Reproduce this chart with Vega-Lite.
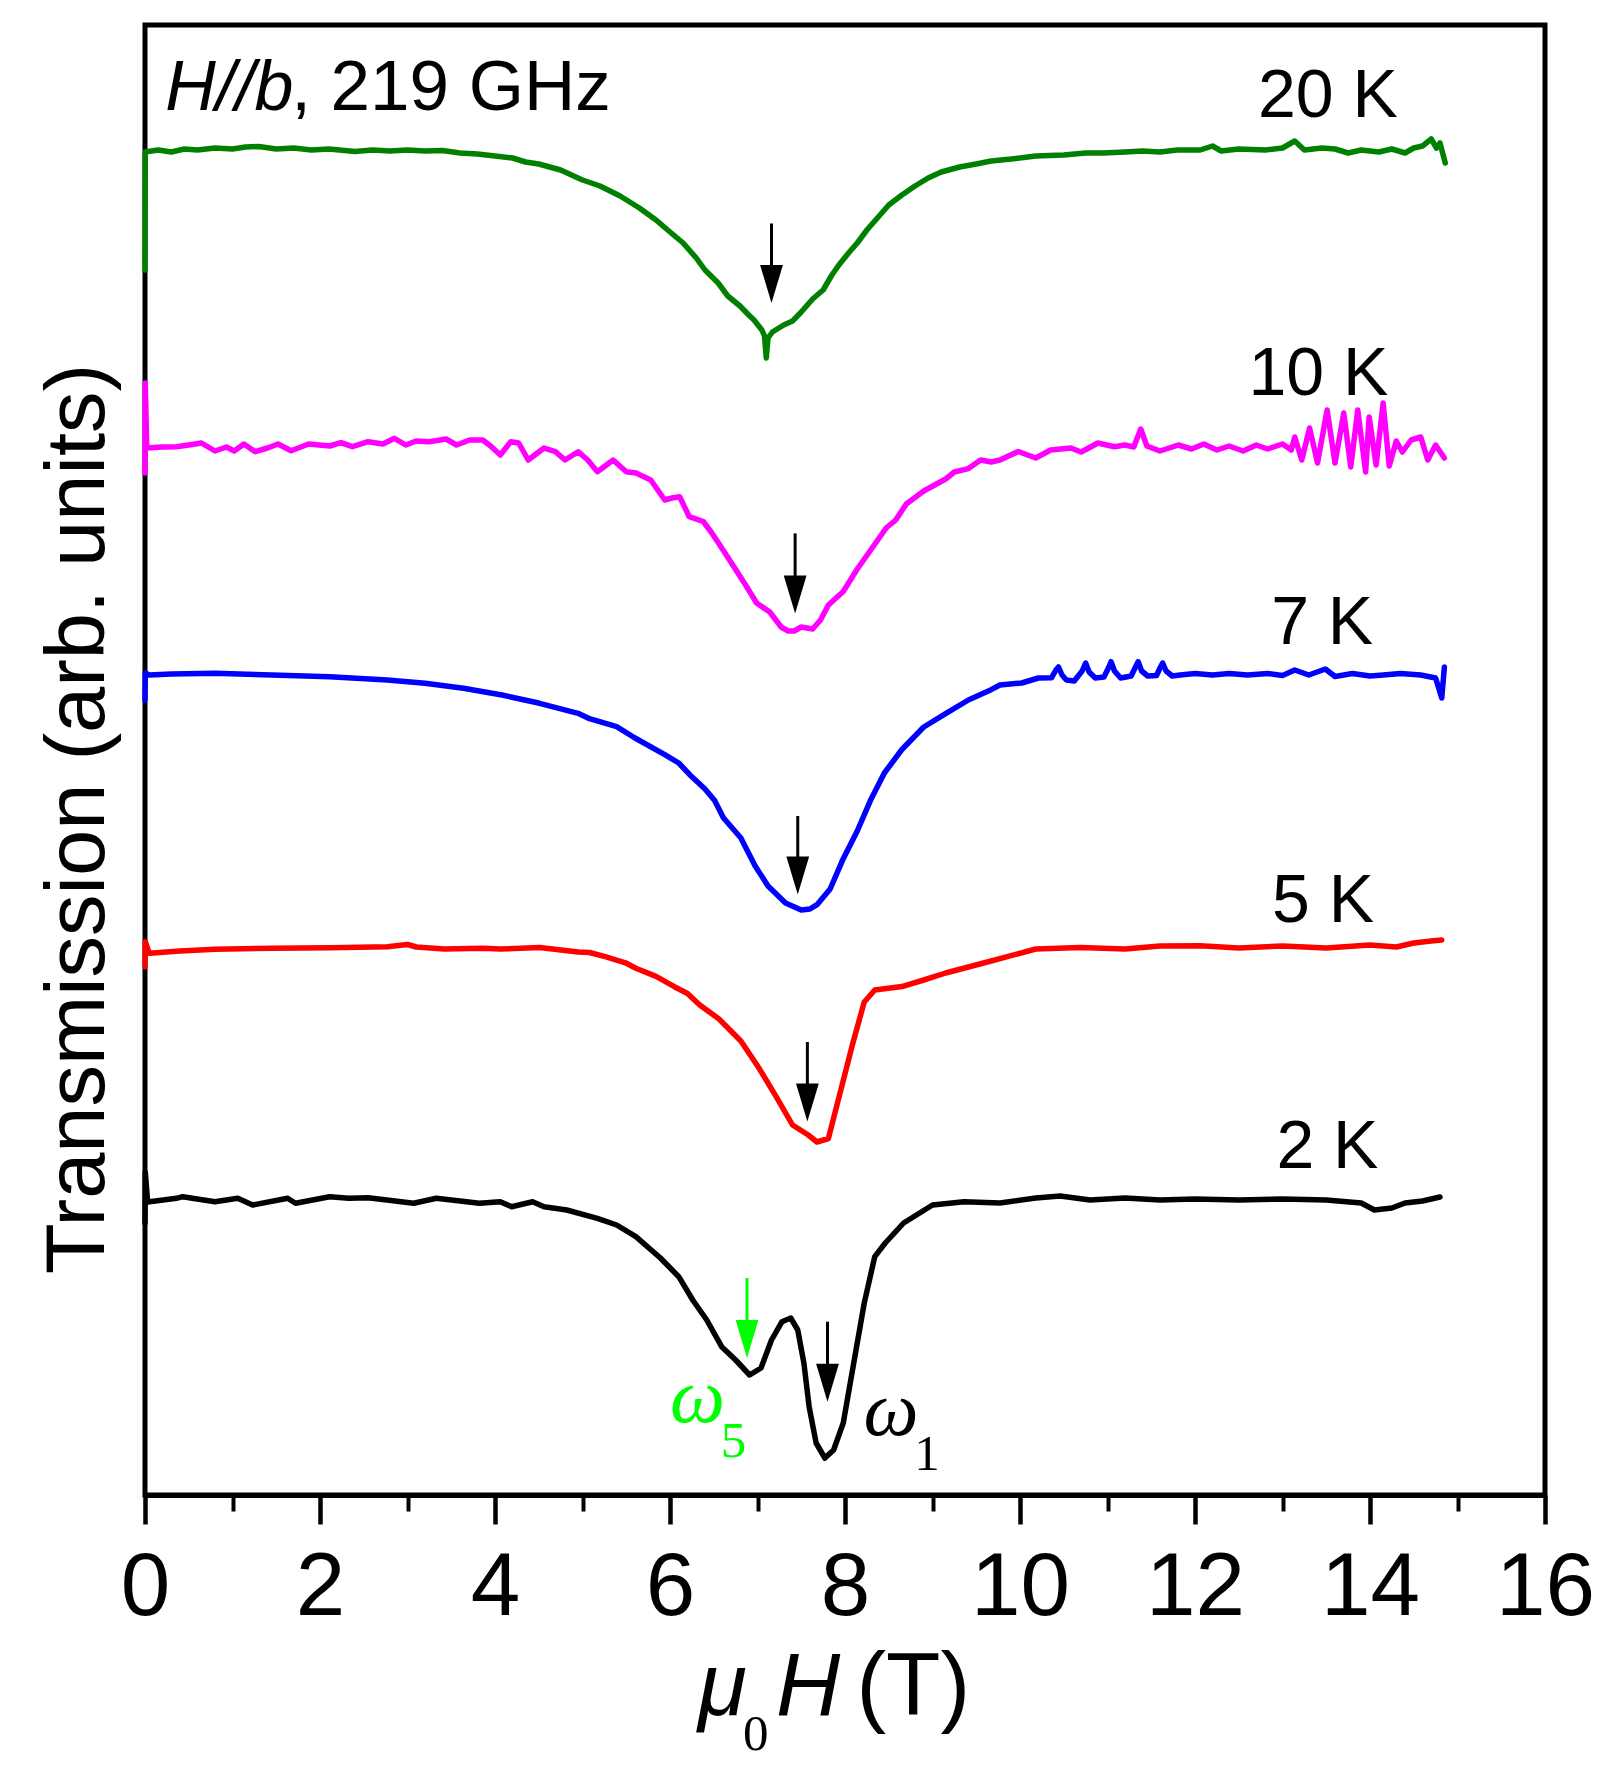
{
  "$schema": "https://vega.github.io/schema/vega-lite/v6.json",
  "width": 1400,
  "height": 1470,
  "autosize": "none",
  "padding": {"left": 145, "top": 25, "right": 75, "bottom": 276},
  "background": "white",
  "view": {"stroke": "black", "strokeWidth": 5},
  "datasets": {
    "curves": [
      {"s": "20 K", "x": 0, "y": 122.5}, {"s": "20 K", "x": 0.003, "y": 134.3}, {"s": "20 K", "x": 0.15, "y": 134.5},
      {"s": "20 K", "x": 0.3, "y": 134.3}, {"s": "20 K", "x": 0.45, "y": 134.6}, {"s": "20 K", "x": 0.6, "y": 134.5},
      {"s": "20 K", "x": 0.8, "y": 134.7}, {"s": "20 K", "x": 1.0, "y": 134.6}, {"s": "20 K", "x": 1.15, "y": 134.8},
      {"s": "20 K", "x": 1.3, "y": 134.85}, {"s": "20 K", "x": 1.5, "y": 134.6}, {"s": "20 K", "x": 1.7, "y": 134.7},
      {"s": "20 K", "x": 1.9, "y": 134.5}, {"s": "20 K", "x": 2.1, "y": 134.6}, {"s": "20 K", "x": 2.4, "y": 134.35},
      {"s": "20 K", "x": 2.6, "y": 134.5}, {"s": "20 K", "x": 2.8, "y": 134.4}, {"s": "20 K", "x": 3.0, "y": 134.5},
      {"s": "20 K", "x": 3.2, "y": 134.4}, {"s": "20 K", "x": 3.4, "y": 134.45}, {"s": "20 K", "x": 3.6, "y": 134.2},
      {"s": "20 K", "x": 3.8, "y": 134.1}, {"s": "20 K", "x": 4.0, "y": 133.9}, {"s": "20 K", "x": 4.2, "y": 133.7},
      {"s": "20 K", "x": 4.35, "y": 133.3}, {"s": "20 K", "x": 4.5, "y": 133.1}, {"s": "20 K", "x": 4.75, "y": 132.5},
      {"s": "20 K", "x": 5.0, "y": 131.5}, {"s": "20 K", "x": 5.2, "y": 130.9}, {"s": "20 K", "x": 5.43, "y": 129.9},
      {"s": "20 K", "x": 5.65, "y": 128.7}, {"s": "20 K", "x": 5.84, "y": 127.5}, {"s": "20 K", "x": 6.0, "y": 126.3},
      {"s": "20 K", "x": 6.15, "y": 125.2}, {"s": "20 K", "x": 6.3, "y": 123.7}, {"s": "20 K", "x": 6.4, "y": 122.5},
      {"s": "20 K", "x": 6.55, "y": 121.2}, {"s": "20 K", "x": 6.66, "y": 119.9}, {"s": "20 K", "x": 6.8, "y": 118.9},
      {"s": "20 K", "x": 6.9, "y": 118.0}, {"s": "20 K", "x": 6.96, "y": 117.5}, {"s": "20 K", "x": 7.05, "y": 116.5},
      {"s": "20 K", "x": 7.08, "y": 115.9}, {"s": "20 K", "x": 7.1, "y": 113.7}, {"s": "20 K", "x": 7.12, "y": 115.7},
      {"s": "20 K", "x": 7.17, "y": 116.3}, {"s": "20 K", "x": 7.3, "y": 117.0}, {"s": "20 K", "x": 7.4, "y": 117.4},
      {"s": "20 K", "x": 7.5, "y": 118.3}, {"s": "20 K", "x": 7.63, "y": 119.6}, {"s": "20 K", "x": 7.75, "y": 120.5},
      {"s": "20 K", "x": 7.85, "y": 122.0}, {"s": "20 K", "x": 7.93, "y": 123.0}, {"s": "20 K", "x": 8.05, "y": 124.3},
      {"s": "20 K", "x": 8.14, "y": 125.2}, {"s": "20 K", "x": 8.25, "y": 126.5}, {"s": "20 K", "x": 8.39, "y": 127.9},
      {"s": "20 K", "x": 8.5, "y": 129.0}, {"s": "20 K", "x": 8.65, "y": 130.0}, {"s": "20 K", "x": 8.8, "y": 130.9},
      {"s": "20 K", "x": 8.95, "y": 131.7}, {"s": "20 K", "x": 9.1, "y": 132.3}, {"s": "20 K", "x": 9.31, "y": 132.8},
      {"s": "20 K", "x": 9.5, "y": 133.1}, {"s": "20 K", "x": 9.67, "y": 133.4}, {"s": "20 K", "x": 9.9, "y": 133.6},
      {"s": "20 K", "x": 10.18, "y": 133.9}, {"s": "20 K", "x": 10.5, "y": 134.0}, {"s": "20 K", "x": 10.75, "y": 134.2},
      {"s": "20 K", "x": 10.95, "y": 134.2}, {"s": "20 K", "x": 11.2, "y": 134.3}, {"s": "20 K", "x": 11.4, "y": 134.4},
      {"s": "20 K", "x": 11.6, "y": 134.3}, {"s": "20 K", "x": 11.8, "y": 134.5}, {"s": "20 K", "x": 12.06, "y": 134.5},
      {"s": "20 K", "x": 12.2, "y": 134.9}, {"s": "20 K", "x": 12.3, "y": 134.4}, {"s": "20 K", "x": 12.5, "y": 134.6},
      {"s": "20 K", "x": 12.8, "y": 134.5}, {"s": "20 K", "x": 13.0, "y": 134.7}, {"s": "20 K", "x": 13.14, "y": 135.4},
      {"s": "20 K", "x": 13.25, "y": 134.5}, {"s": "20 K", "x": 13.45, "y": 134.7}, {"s": "20 K", "x": 13.6, "y": 134.6},
      {"s": "20 K", "x": 13.75, "y": 134.2}, {"s": "20 K", "x": 13.9, "y": 134.5}, {"s": "20 K", "x": 14.1, "y": 134.3},
      {"s": "20 K", "x": 14.25, "y": 134.6}, {"s": "20 K", "x": 14.4, "y": 134.2}, {"s": "20 K", "x": 14.5, "y": 134.7},
      {"s": "20 K", "x": 14.6, "y": 134.9}, {"s": "20 K", "x": 14.7, "y": 135.6}, {"s": "20 K", "x": 14.76, "y": 134.7},
      {"s": "20 K", "x": 14.8, "y": 135.2}, {"s": "20 K", "x": 14.86, "y": 133.2},

      {"s": "10 K", "x": 0, "y": 102.2}, {"s": "10 K", "x": 0.003, "y": 111.2}, {"s": "10 K", "x": 0.02, "y": 104.7},
      {"s": "10 K", "x": 0.2, "y": 104.8}, {"s": "10 K", "x": 0.36, "y": 104.83}, {"s": "10 K", "x": 0.5, "y": 105.0},
      {"s": "10 K", "x": 0.645, "y": 105.2}, {"s": "10 K", "x": 0.8, "y": 104.4}, {"s": "10 K", "x": 0.93, "y": 104.8},
      {"s": "10 K", "x": 1.02, "y": 104.4}, {"s": "10 K", "x": 1.13, "y": 105.1}, {"s": "10 K", "x": 1.26, "y": 104.33},
      {"s": "10 K", "x": 1.4, "y": 104.7}, {"s": "10 K", "x": 1.52, "y": 105.1}, {"s": "10 K", "x": 1.67, "y": 104.43},
      {"s": "10 K", "x": 1.87, "y": 105.1}, {"s": "10 K", "x": 2.11, "y": 104.9}, {"s": "10 K", "x": 2.24, "y": 105.23},
      {"s": "10 K", "x": 2.37, "y": 104.83}, {"s": "10 K", "x": 2.55, "y": 105.33}, {"s": "10 K", "x": 2.72, "y": 105.1},
      {"s": "10 K", "x": 2.85, "y": 105.67}, {"s": "10 K", "x": 2.98, "y": 105.0}, {"s": "10 K", "x": 3.1, "y": 105.4},
      {"s": "10 K", "x": 3.25, "y": 105.33}, {"s": "10 K", "x": 3.44, "y": 105.6}, {"s": "10 K", "x": 3.56, "y": 105.0},
      {"s": "10 K", "x": 3.71, "y": 105.5}, {"s": "10 K", "x": 3.86, "y": 105.5}, {"s": "10 K", "x": 3.95, "y": 104.9},
      {"s": "10 K", "x": 4.06, "y": 104.0}, {"s": "10 K", "x": 4.18, "y": 105.33}, {"s": "10 K", "x": 4.27, "y": 105.2},
      {"s": "10 K", "x": 4.38, "y": 103.5}, {"s": "10 K", "x": 4.56, "y": 104.7}, {"s": "10 K", "x": 4.69, "y": 104.33},
      {"s": "10 K", "x": 4.8, "y": 103.5}, {"s": "10 K", "x": 4.95, "y": 104.33}, {"s": "10 K", "x": 5.06, "y": 103.5},
      {"s": "10 K", "x": 5.17, "y": 102.33}, {"s": "10 K", "x": 5.35, "y": 103.5}, {"s": "10 K", "x": 5.5, "y": 102.33},
      {"s": "10 K", "x": 5.61, "y": 102.2}, {"s": "10 K", "x": 5.78, "y": 101.5}, {"s": "10 K", "x": 5.94, "y": 99.5},
      {"s": "10 K", "x": 6.02, "y": 99.7}, {"s": "10 K", "x": 6.11, "y": 99.83}, {"s": "10 K", "x": 6.22, "y": 97.83},
      {"s": "10 K", "x": 6.38, "y": 97.35}, {"s": "10 K", "x": 6.47, "y": 96.3}, {"s": "10 K", "x": 6.56, "y": 95.13},
      {"s": "10 K", "x": 6.71, "y": 93.1}, {"s": "10 K", "x": 6.86, "y": 91.04}, {"s": "10 K", "x": 6.99, "y": 89.2},
      {"s": "10 K", "x": 7.14, "y": 88.3}, {"s": "10 K", "x": 7.27, "y": 86.8}, {"s": "10 K", "x": 7.35, "y": 86.4},
      {"s": "10 K", "x": 7.42, "y": 86.4}, {"s": "10 K", "x": 7.5, "y": 86.8}, {"s": "10 K", "x": 7.63, "y": 86.6},
      {"s": "10 K", "x": 7.72, "y": 87.5}, {"s": "10 K", "x": 7.81, "y": 89.0}, {"s": "10 K", "x": 7.98, "y": 90.35},
      {"s": "10 K", "x": 8.14, "y": 92.6}, {"s": "10 K", "x": 8.29, "y": 94.45}, {"s": "10 K", "x": 8.47, "y": 96.7},
      {"s": "10 K", "x": 8.58, "y": 97.5}, {"s": "10 K", "x": 8.7, "y": 99.1}, {"s": "10 K", "x": 8.9, "y": 100.4},
      {"s": "10 K", "x": 9.15, "y": 101.6}, {"s": "10 K", "x": 9.25, "y": 102.3}, {"s": "10 K", "x": 9.41, "y": 102.64},
      {"s": "10 K", "x": 9.55, "y": 103.5}, {"s": "10 K", "x": 9.67, "y": 103.3}, {"s": "10 K", "x": 9.77, "y": 103.5},
      {"s": "10 K", "x": 9.98, "y": 104.35}, {"s": "10 K", "x": 10.18, "y": 103.7}, {"s": "10 K", "x": 10.35, "y": 104.5},
      {"s": "10 K", "x": 10.58, "y": 104.7}, {"s": "10 K", "x": 10.7, "y": 104.3}, {"s": "10 K", "x": 10.89, "y": 105.2},
      {"s": "10 K", "x": 11.08, "y": 104.83}, {"s": "10 K", "x": 11.2, "y": 105.0}, {"s": "10 K", "x": 11.3, "y": 104.8},
      {"s": "10 K", "x": 11.38, "y": 106.6}, {"s": "10 K", "x": 11.45, "y": 104.9}, {"s": "10 K", "x": 11.6, "y": 104.4},
      {"s": "10 K", "x": 11.81, "y": 105.0}, {"s": "10 K", "x": 11.96, "y": 104.6}, {"s": "10 K", "x": 12.1, "y": 105.1},
      {"s": "10 K", "x": 12.25, "y": 104.5}, {"s": "10 K", "x": 12.39, "y": 104.9}, {"s": "10 K", "x": 12.55, "y": 104.4},
      {"s": "10 K", "x": 12.7, "y": 105.0}, {"s": "10 K", "x": 12.83, "y": 104.6}, {"s": "10 K", "x": 13.0, "y": 105.1},
      {"s": "10 K", "x": 13.1, "y": 104.5}, {"s": "10 K", "x": 13.14, "y": 105.8}, {"s": "10 K", "x": 13.22, "y": 103.5},
      {"s": "10 K", "x": 13.31, "y": 106.7}, {"s": "10 K", "x": 13.4, "y": 103.2}, {"s": "10 K", "x": 13.51, "y": 108.5},
      {"s": "10 K", "x": 13.6, "y": 103.2}, {"s": "10 K", "x": 13.7, "y": 108.2}, {"s": "10 K", "x": 13.78, "y": 102.8},
      {"s": "10 K", "x": 13.86, "y": 108.5}, {"s": "10 K", "x": 13.95, "y": 102.3}, {"s": "10 K", "x": 13.99, "y": 107.8},
      {"s": "10 K", "x": 14.07, "y": 103.0}, {"s": "10 K", "x": 14.15, "y": 109.2}, {"s": "10 K", "x": 14.22, "y": 102.9},
      {"s": "10 K", "x": 14.3, "y": 105.4}, {"s": "10 K", "x": 14.37, "y": 104.3}, {"s": "10 K", "x": 14.47, "y": 105.5},
      {"s": "10 K", "x": 14.58, "y": 105.8}, {"s": "10 K", "x": 14.66, "y": 103.5}, {"s": "10 K", "x": 14.75, "y": 105.0},
      {"s": "10 K", "x": 14.85, "y": 103.7},

      {"s": "7 K", "x": 0, "y": 79.5}, {"s": "7 K", "x": 0.003, "y": 82.2}, {"s": "7 K", "x": 0.05, "y": 82.0},
      {"s": "7 K", "x": 0.3, "y": 82.1}, {"s": "7 K", "x": 0.8, "y": 82.17}, {"s": "7 K", "x": 1.45, "y": 82.0},
      {"s": "7 K", "x": 2.11, "y": 81.83}, {"s": "7 K", "x": 2.77, "y": 81.5}, {"s": "7 K", "x": 3.2, "y": 81.17},
      {"s": "7 K", "x": 3.64, "y": 80.67}, {"s": "7 K", "x": 4.08, "y": 80.0}, {"s": "7 K", "x": 4.51, "y": 79.17},
      {"s": "7 K", "x": 4.95, "y": 78.17}, {"s": "7 K", "x": 5.08, "y": 77.63}, {"s": "7 K", "x": 5.39, "y": 76.83},
      {"s": "7 K", "x": 5.59, "y": 75.75}, {"s": "7 K", "x": 5.94, "y": 74.04}, {"s": "7 K", "x": 6.1, "y": 73.2},
      {"s": "7 K", "x": 6.25, "y": 71.82}, {"s": "7 K", "x": 6.4, "y": 70.6}, {"s": "7 K", "x": 6.51, "y": 69.44},
      {"s": "7 K", "x": 6.61, "y": 67.73}, {"s": "7 K", "x": 6.81, "y": 65.7}, {"s": "7 K", "x": 6.97, "y": 62.95},
      {"s": "7 K", "x": 7.12, "y": 60.9}, {"s": "7 K", "x": 7.32, "y": 59.2}, {"s": "7 K", "x": 7.5, "y": 58.5},
      {"s": "7 K", "x": 7.6, "y": 58.6}, {"s": "7 K", "x": 7.68, "y": 59.03}, {"s": "7 K", "x": 7.83, "y": 60.6},
      {"s": "7 K", "x": 7.98, "y": 63.63}, {"s": "7 K", "x": 8.14, "y": 66.4}, {"s": "7 K", "x": 8.29, "y": 69.44},
      {"s": "7 K", "x": 8.45, "y": 72.2}, {"s": "7 K", "x": 8.65, "y": 74.55}, {"s": "7 K", "x": 8.9, "y": 76.8},
      {"s": "7 K", "x": 9.15, "y": 78.14}, {"s": "7 K", "x": 9.41, "y": 79.5}, {"s": "7 K", "x": 9.67, "y": 80.53},
      {"s": "7 K", "x": 9.77, "y": 81.0}, {"s": "7 K", "x": 10.02, "y": 81.2}, {"s": "7 K", "x": 10.21, "y": 81.7},
      {"s": "7 K", "x": 10.36, "y": 81.72}, {"s": "7 K", "x": 10.41, "y": 82.5}, {"s": "7 K", "x": 10.44, "y": 82.8},
      {"s": "7 K", "x": 10.48, "y": 82.0}, {"s": "7 K", "x": 10.53, "y": 81.5}, {"s": "7 K", "x": 10.62, "y": 81.4},
      {"s": "7 K", "x": 10.71, "y": 82.4}, {"s": "7 K", "x": 10.75, "y": 83.2}, {"s": "7 K", "x": 10.79, "y": 82.3},
      {"s": "7 K", "x": 10.86, "y": 81.7}, {"s": "7 K", "x": 10.96, "y": 81.8}, {"s": "7 K", "x": 11.01, "y": 82.7},
      {"s": "7 K", "x": 11.04, "y": 83.33}, {"s": "7 K", "x": 11.08, "y": 82.4}, {"s": "7 K", "x": 11.15, "y": 81.7},
      {"s": "7 K", "x": 11.27, "y": 81.9}, {"s": "7 K", "x": 11.32, "y": 82.8}, {"s": "7 K", "x": 11.35, "y": 83.33},
      {"s": "7 K", "x": 11.39, "y": 82.4}, {"s": "7 K", "x": 11.46, "y": 81.9}, {"s": "7 K", "x": 11.56, "y": 81.95},
      {"s": "7 K", "x": 11.6, "y": 82.7}, {"s": "7 K", "x": 11.63, "y": 83.2}, {"s": "7 K", "x": 11.67, "y": 82.4},
      {"s": "7 K", "x": 11.74, "y": 81.9}, {"s": "7 K", "x": 11.83, "y": 82.0}, {"s": "7 K", "x": 12.0, "y": 82.15},
      {"s": "7 K", "x": 12.2, "y": 82.0}, {"s": "7 K", "x": 12.39, "y": 82.15}, {"s": "7 K", "x": 12.6, "y": 82.0},
      {"s": "7 K", "x": 12.83, "y": 82.15}, {"s": "7 K", "x": 13.0, "y": 81.95}, {"s": "7 K", "x": 13.14, "y": 82.5},
      {"s": "7 K", "x": 13.3, "y": 82.0}, {"s": "7 K", "x": 13.49, "y": 82.6}, {"s": "7 K", "x": 13.6, "y": 81.85},
      {"s": "7 K", "x": 13.8, "y": 82.15}, {"s": "7 K", "x": 14.0, "y": 81.9}, {"s": "7 K", "x": 14.15, "y": 82.0},
      {"s": "7 K", "x": 14.35, "y": 82.15}, {"s": "7 K", "x": 14.58, "y": 82.0}, {"s": "7 K", "x": 14.75, "y": 81.7},
      {"s": "7 K", "x": 14.82, "y": 79.7}, {"s": "7 K", "x": 14.85, "y": 82.8},

      {"s": "5 K", "x": 0, "y": 52.83}, {"s": "5 K", "x": 0.003, "y": 55.33}, {"s": "5 K", "x": 0.05, "y": 54.17},
      {"s": "5 K", "x": 0.4, "y": 54.4}, {"s": "5 K", "x": 0.8, "y": 54.57}, {"s": "5 K", "x": 1.45, "y": 54.67},
      {"s": "5 K", "x": 2.11, "y": 54.73}, {"s": "5 K", "x": 2.77, "y": 54.83}, {"s": "5 K", "x": 3.0, "y": 55.05},
      {"s": "5 K", "x": 3.1, "y": 54.8}, {"s": "5 K", "x": 3.42, "y": 54.6}, {"s": "5 K", "x": 3.86, "y": 54.67},
      {"s": "5 K", "x": 4.06, "y": 54.6}, {"s": "5 K", "x": 4.51, "y": 54.75}, {"s": "5 K", "x": 4.95, "y": 54.3},
      {"s": "5 K", "x": 5.08, "y": 54.25}, {"s": "5 K", "x": 5.26, "y": 53.83}, {"s": "5 K", "x": 5.49, "y": 53.22},
      {"s": "5 K", "x": 5.61, "y": 52.67}, {"s": "5 K", "x": 5.84, "y": 51.86}, {"s": "5 K", "x": 6.05, "y": 50.83},
      {"s": "5 K", "x": 6.2, "y": 50.15}, {"s": "5 K", "x": 6.34, "y": 49.0}, {"s": "5 K", "x": 6.56, "y": 47.6},
      {"s": "5 K", "x": 6.81, "y": 45.4}, {"s": "5 K", "x": 7.02, "y": 42.64}, {"s": "5 K", "x": 7.22, "y": 39.74},
      {"s": "5 K", "x": 7.4, "y": 37.0}, {"s": "5 K", "x": 7.58, "y": 36.0}, {"s": "5 K", "x": 7.68, "y": 35.3},
      {"s": "5 K", "x": 7.81, "y": 35.65}, {"s": "5 K", "x": 7.93, "y": 39.74}, {"s": "5 K", "x": 8.09, "y": 45.2},
      {"s": "5 K", "x": 8.22, "y": 49.3}, {"s": "5 K", "x": 8.34, "y": 50.5}, {"s": "5 K", "x": 8.65, "y": 50.84},
      {"s": "5 K", "x": 8.9, "y": 51.5}, {"s": "5 K", "x": 9.15, "y": 52.2}, {"s": "5 K", "x": 9.67, "y": 53.4},
      {"s": "5 K", "x": 10.18, "y": 54.6}, {"s": "5 K", "x": 10.69, "y": 54.76}, {"s": "5 K", "x": 11.2, "y": 54.6},
      {"s": "5 K", "x": 11.6, "y": 54.9}, {"s": "5 K", "x": 12.06, "y": 54.93}, {"s": "5 K", "x": 12.5, "y": 54.7},
      {"s": "5 K", "x": 13.0, "y": 54.9}, {"s": "5 K", "x": 13.5, "y": 54.7}, {"s": "5 K", "x": 14.0, "y": 55.0},
      {"s": "5 K", "x": 14.3, "y": 54.8}, {"s": "5 K", "x": 14.5, "y": 55.2}, {"s": "5 K", "x": 14.7, "y": 55.4},
      {"s": "5 K", "x": 14.82, "y": 55.5},

      {"s": "2 K", "x": 0, "y": 27.2}, {"s": "2 K", "x": 0.003, "y": 32.3}, {"s": "2 K", "x": 0.03, "y": 29.3},
      {"s": "2 K", "x": 0.36, "y": 29.67}, {"s": "2 K", "x": 0.43, "y": 29.83}, {"s": "2 K", "x": 0.8, "y": 29.33},
      {"s": "2 K", "x": 1.06, "y": 29.67}, {"s": "2 K", "x": 1.23, "y": 29.0}, {"s": "2 K", "x": 1.63, "y": 29.67},
      {"s": "2 K", "x": 1.72, "y": 29.17}, {"s": "2 K", "x": 2.11, "y": 29.83}, {"s": "2 K", "x": 2.33, "y": 29.67},
      {"s": "2 K", "x": 2.55, "y": 29.73}, {"s": "2 K", "x": 3.07, "y": 29.17}, {"s": "2 K", "x": 3.33, "y": 29.67},
      {"s": "2 K", "x": 3.82, "y": 29.17}, {"s": "2 K", "x": 4.06, "y": 29.33}, {"s": "2 K", "x": 4.19, "y": 28.83},
      {"s": "2 K", "x": 4.43, "y": 29.33}, {"s": "2 K", "x": 4.56, "y": 28.83}, {"s": "2 K", "x": 4.82, "y": 28.5},
      {"s": "2 K", "x": 5.17, "y": 27.67}, {"s": "2 K", "x": 5.39, "y": 27.0}, {"s": "2 K", "x": 5.61, "y": 25.83},
      {"s": "2 K", "x": 5.89, "y": 23.7}, {"s": "2 K", "x": 6.1, "y": 21.83}, {"s": "2 K", "x": 6.26, "y": 19.5},
      {"s": "2 K", "x": 6.42, "y": 17.5}, {"s": "2 K", "x": 6.59, "y": 14.83}, {"s": "2 K", "x": 6.75, "y": 13.5},
      {"s": "2 K", "x": 6.91, "y": 12.0}, {"s": "2 K", "x": 7.04, "y": 12.7}, {"s": "2 K", "x": 7.16, "y": 15.5},
      {"s": "2 K", "x": 7.28, "y": 17.33}, {"s": "2 K", "x": 7.38, "y": 17.7}, {"s": "2 K", "x": 7.46, "y": 16.5},
      {"s": "2 K", "x": 7.53, "y": 13.2}, {"s": "2 K", "x": 7.59, "y": 8.83}, {"s": "2 K", "x": 7.67, "y": 5.2},
      {"s": "2 K", "x": 7.77, "y": 3.7}, {"s": "2 K", "x": 7.87, "y": 4.5}, {"s": "2 K", "x": 7.98, "y": 7.2},
      {"s": "2 K", "x": 8.1, "y": 13.2}, {"s": "2 K", "x": 8.22, "y": 19.2}, {"s": "2 K", "x": 8.34, "y": 23.83},
      {"s": "2 K", "x": 8.46, "y": 25.2}, {"s": "2 K", "x": 8.67, "y": 27.2}, {"s": "2 K", "x": 9.0, "y": 29.0},
      {"s": "2 K", "x": 9.36, "y": 29.33}, {"s": "2 K", "x": 9.77, "y": 29.2}, {"s": "2 K", "x": 10.18, "y": 29.7},
      {"s": "2 K", "x": 10.46, "y": 29.9}, {"s": "2 K", "x": 10.8, "y": 29.5}, {"s": "2 K", "x": 11.2, "y": 29.7},
      {"s": "2 K", "x": 11.6, "y": 29.5}, {"s": "2 K", "x": 12.0, "y": 29.6}, {"s": "2 K", "x": 12.5, "y": 29.5},
      {"s": "2 K", "x": 13.0, "y": 29.6}, {"s": "2 K", "x": 13.5, "y": 29.5}, {"s": "2 K", "x": 13.9, "y": 29.2},
      {"s": "2 K", "x": 14.05, "y": 28.5}, {"s": "2 K", "x": 14.25, "y": 28.7}, {"s": "2 K", "x": 14.4, "y": 29.2},
      {"s": "2 K", "x": 14.6, "y": 29.4}, {"s": "2 K", "x": 14.8, "y": 29.8}
    ],
    "arrows": [
      {"s": "ann", "x": 7.16, "top": 127.15, "neck": 122.2, "tip": 119.2},
      {"s": "ann", "x": 7.43, "top": 96.16, "neck": 91.2, "tip": 88.14},
      {"s": "ann", "x": 7.46, "top": 67.9, "neck": 63.1, "tip": 60.05},
      {"s": "ann", "x": 7.57, "top": 45.3, "neck": 40.4, "tip": 37.35},
      {"s": "ann", "x": 7.8, "top": 17.33, "neck": 12.4, "tip": 9.33},
      {"s": "ω5", "x": 6.88, "top": 21.7, "neck": 16.8, "tip": 13.7}
    ]
  },
  "resolve": {"axis": {"x": "independent"}},
  "layer": [
    {
      "data": {"name": "curves"},
      "mark": {"type": "line", "strokeWidth": 5.5, "strokeJoin": "round", "strokeCap": "round"},
      "encoding": {
        "x": {
          "field": "x", "type": "quantitative",
          "scale": {"domain": [0, 16], "nice": false, "zero": false},
          "axis": {
            "orient": "bottom", "title": null, "values": [0, 2, 4, 6, 8, 10, 12, 14, 16],
            "grid": false, "domainColor": "black", "domainWidth": 5,
            "tickColor": "black", "tickWidth": 4.5, "tickSize": 29,
            "labelFont": "Liberation Sans", "labelFontSize": 89, "labelColor": "black",
            "labelPadding": 20, "labelFlush": false, "labelOverlap": false
          }
        },
        "y": {
          "field": "y", "type": "quantitative",
          "scale": {"domain": [0, 147], "nice": false, "zero": false},
          "axis": {
            "orient": "left", "grid": false, "ticks": false, "labels": false,
            "domainColor": "black", "domainWidth": 5, "title": null
          }
        },
        "color": {
          "field": "s", "type": "nominal", "legend": null,
          "scale": {
            "domain": ["20 K", "10 K", "7 K", "5 K", "2 K", "ann", "ω5"],
            "range": ["#008000", "#ff00ff", "#0000ff", "#ff0000", "#000000", "#000000", "#00ff00"]
          }
        }
      }
    },
    {
      "data": {"name": "arrows"},
      "mark": {"type": "rule", "strokeWidth": 3},
      "encoding": {
        "x": {
          "field": "x", "type": "quantitative",
          "axis": {
            "orient": "bottom", "title": null, "values": [1, 3, 5, 7, 9, 11, 13, 15],
            "grid": false, "domain": false, "labels": false,
            "tickColor": "black", "tickWidth": 4, "tickSize": 16
          }
        },
        "y": {"field": "top", "type": "quantitative", "axis": null},
        "y2": {"field": "neck"},
        "color": {"field": "s", "type": "nominal", "legend": null}
      }
    },
    {
      "data": {"name": "arrows"},
      "mark": {"type": "point", "shape": "M-0.6,-2L0.6,-2L0,0Z", "filled": true, "opacity": 1, "size": 1444, "strokeWidth": 0},
      "encoding": {
        "x": {"field": "x", "type": "quantitative", "axis": null},
        "y": {"field": "tip", "type": "quantitative", "axis": null},
        "color": {"field": "s", "type": "nominal", "legend": null}
      }
    },
    {
      "data": {"values": [
        {"t": "20 K", "x": 12.72, "y": 137.8, "s": "ann"},
        {"t": "10 K", "x": 12.61, "y": 110.0, "s": "ann"},
        {"t": "7 K", "x": 12.87, "y": 85.1, "s": "ann"},
        {"t": "5 K", "x": 12.88, "y": 57.3, "s": "ann"},
        {"t": "2 K", "x": 12.93, "y": 32.7, "s": "ann"}
      ]},
      "mark": {"type": "text", "font": "Liberation Sans", "fontSize": 68, "align": "left", "baseline": "alphabetic"},
      "encoding": {
        "x": {"field": "x", "type": "quantitative", "axis": null},
        "y": {"field": "y", "type": "quantitative", "axis": null},
        "text": {"field": "t"},
        "color": {"field": "s", "type": "nominal", "legend": null}
      }
    },
    {
      "data": {"values": [
        {"t": ", 219 GHz", "x": 1.67, "y": 138.5, "s": "ann"}
      ]},
      "mark": {"type": "text", "font": "Liberation Sans", "fontSize": 71, "align": "left", "baseline": "alphabetic"},
      "encoding": {
        "x": {"field": "x", "type": "quantitative", "axis": null},
        "y": {"field": "y", "type": "quantitative", "axis": null},
        "text": {"field": "t"},
        "color": {"field": "s", "type": "nominal", "legend": null}
      }
    },
    {
      "data": {"values": [
        {"t": "H//b", "x": 0.23, "y": 138.5, "s": "ann"}
      ]},
      "mark": {"type": "text", "font": "Liberation Sans", "fontStyle": "italic", "fontSize": 70, "align": "left", "baseline": "alphabetic"},
      "encoding": {
        "x": {"field": "x", "type": "quantitative", "axis": null},
        "y": {"field": "y", "type": "quantitative", "axis": null},
        "text": {"field": "t"},
        "color": {"field": "s", "type": "nominal", "legend": null}
      }
    },
    {
      "data": {"values": [
        {"t": "Transmission (arb. units)", "x": -0.47, "y": 67.6, "s": "ann"}
      ]},
      "mark": {"type": "text", "font": "Liberation Sans", "fontSize": 83, "angle": 270, "align": "center", "baseline": "alphabetic"},
      "encoding": {
        "x": {"field": "x", "type": "quantitative", "axis": null},
        "y": {"field": "y", "type": "quantitative", "axis": null},
        "text": {"field": "t"},
        "color": {"field": "s", "type": "nominal", "legend": null}
      }
    },
    {
      "data": {"values": [
        {"t": "ω", "x": 6.0, "y": 7.3, "s": "ω5"},
        {"t": "ω", "x": 8.21, "y": 6.0, "s": "ann"}
      ]},
      "mark": {"type": "text", "font": "Liberation Serif", "fontStyle": "italic", "fontSize": 78, "align": "left", "baseline": "alphabetic"},
      "encoding": {
        "x": {"field": "x", "type": "quantitative", "axis": null},
        "y": {"field": "y", "type": "quantitative", "axis": null},
        "text": {"field": "t"},
        "color": {"field": "s", "type": "nominal", "legend": null}
      }
    },
    {
      "data": {"values": [
        {"t": "5", "x": 6.58, "y": 3.8, "s": "ω5"},
        {"t": "1", "x": 8.79, "y": 2.5, "s": "ann"},
        {"t": "0", "x": 6.834, "y": -25.5, "s": "ann"}
      ]},
      "mark": {"type": "text", "font": "Liberation Serif", "fontSize": 51, "align": "left", "baseline": "alphabetic"},
      "encoding": {
        "x": {"field": "x", "type": "quantitative", "axis": null},
        "y": {"field": "y", "type": "quantitative", "axis": null},
        "text": {"field": "t"},
        "color": {"field": "s", "type": "nominal", "legend": null}
      }
    },
    {
      "data": {"values": [
        {"t": "μ", "x": 6.32, "y": -22.0, "s": "ann"},
        {"t": "H", "x": 7.21, "y": -22.0, "s": "ann"}
      ]},
      "mark": {"type": "text", "font": "Liberation Sans", "fontStyle": "italic", "fontSize": 89, "align": "left", "baseline": "alphabetic"},
      "encoding": {
        "x": {"field": "x", "type": "quantitative", "axis": null},
        "y": {"field": "y", "type": "quantitative", "axis": null},
        "text": {"field": "t"},
        "color": {"field": "s", "type": "nominal", "legend": null}
      }
    },
    {
      "data": {"values": [
        {"t": "(T)", "x": 8.13, "y": -22.0, "s": "ann"}
      ]},
      "mark": {"type": "text", "font": "Liberation Sans", "fontSize": 89, "align": "left", "baseline": "alphabetic"},
      "encoding": {
        "x": {"field": "x", "type": "quantitative", "axis": null},
        "y": {"field": "y", "type": "quantitative", "axis": null},
        "text": {"field": "t"},
        "color": {"field": "s", "type": "nominal", "legend": null}
      }
    }
  ]
}
